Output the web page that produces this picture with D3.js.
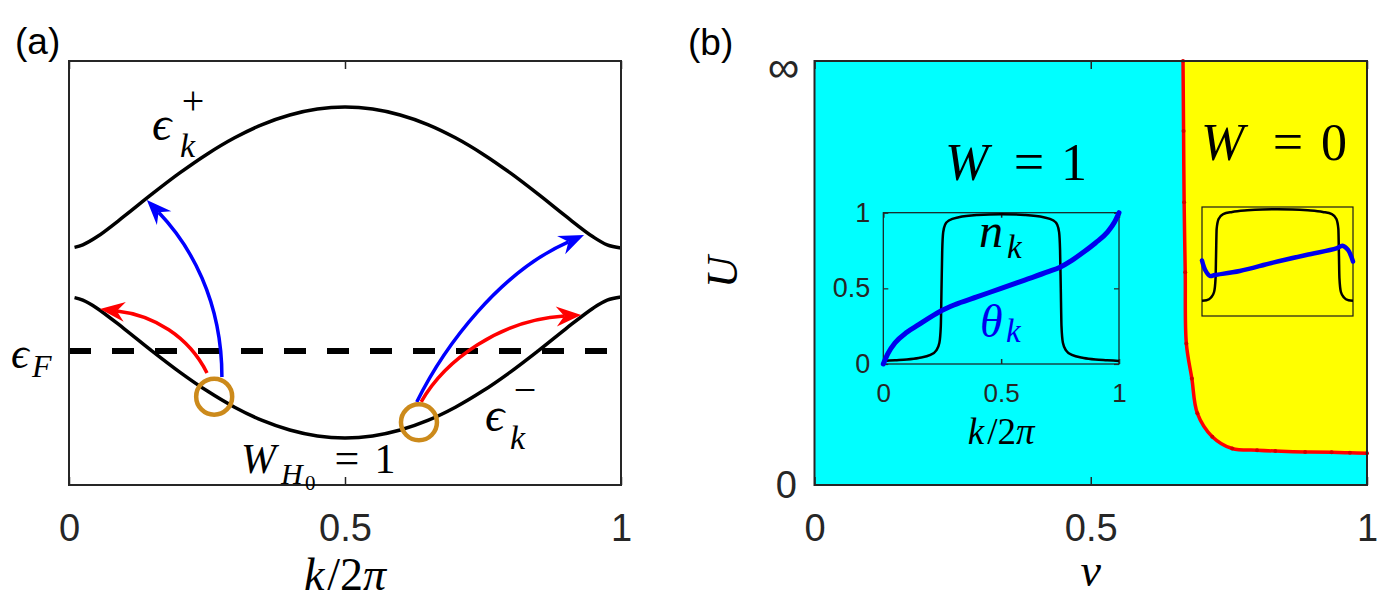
<!DOCTYPE html>
<html lang="en">
<head>
<meta charset="UTF-8" />
<title>Band structure and phase diagram</title>
<script src="https://d3js.org/d3.v7.min.js"></script>
<style>
    body { margin: 0; background: #fff; }
    svg { display: block; }
    .tick text { font-family: "Liberation Sans", Arial, sans-serif; fill: #262626; }
    .math { font-family: "Liberation Serif", "DejaVu Serif", serif; }
</style>
</head>
<body>
<svg id="fig" width="1381" height="608"></svg>
<script>
// ---- panel (a): bands eps_k^+ and eps_k^- (arb. units) ----
const kBand    = [0.01, 0.025, 0.05, 0.10, 0.15, 0.20, 0.25, 0.30, 0.35, 0.40, 0.45, 0.50,
                  0.55, 0.60, 0.65, 0.70, 0.75, 0.80, 0.85, 0.90, 0.95, 0.975, 1.00];
const epsPlus  = [0.152, 0.167, 0.214, 0.340, 0.473, 0.600, 0.715, 0.814, 0.894, 0.952, 0.988, 1.000,
                  0.988, 0.952, 0.894, 0.814, 0.715, 0.600, 0.473, 0.340, 0.214, 0.167, 0.148];
const epsMinus = [-0.152, -0.167, -0.214, -0.340, -0.473, -0.600, -0.715, -0.814, -0.894, -0.952, -0.988, -1.000,
                  -0.988, -0.952, -0.894, -0.814, -0.715, -0.600, -0.473, -0.340, -0.214, -0.167, -0.148];
const epsF = -0.474;
const xTicks = [0, 0.5, 1];

// highlighted states on the lower band: [k, eps]
const circles = [[0.263, -0.750], [0.634, -0.905]];
// transition arrows, cubic control points in (k, eps)
const arrows = [
    { color: "#0000ff", pts: [[0.277, -0.631], [0.277, -0.166], [0.219, 0.166], [0.141, 0.438]] },
    { color: "#ff0000", pts: [[0.250, -0.607], [0.217, -0.386], [0.153, -0.257], [0.056, -0.221]] },
    { color: "#0000ff", pts: [[0.630, -0.782], [0.681, -0.438], [0.781, 0.003], [0.933, 0.227]] },
    { color: "#ff0000", pts: [[0.638, -0.782], [0.681, -0.529], [0.781, -0.287], [0.928, -0.257]] }
];

// ---- panel (b): phase boundary nu vs U (U axis compactified to [0,1]) ----
const nuB = [0.667, 0.668, 0.669, 0.671, 0.673, 0.683, 0.693, 0.720, 0.756, 0.801, 0.834, 0.888, 0.936, 0.969, 1.000];
const uB  = [1.000, 0.835, 0.667, 0.502, 0.334, 0.251, 0.169, 0.114, 0.086, 0.082, 0.080, 0.078, 0.077, 0.076, 0.075];

// inset W=1: n_k and theta_k
const kN1 = [0, 0.05, 0.10, 0.15, 0.20, 0.225, 0.238, 0.244, 0.247, 0.250, 0.254, 0.262, 0.28, 0.32, 0.40, 0.50,
             0.60, 0.68, 0.72, 0.738, 0.746, 0.750, 0.753, 0.756, 0.762, 0.775, 0.80, 0.85, 0.90, 0.95, 1.00];
const nK1 = [0.02, 0.025, 0.03, 0.04, 0.06, 0.09, 0.14, 0.25, 0.50, 0.75, 0.87, 0.92, 0.95, 0.97, 0.985, 0.99,
             0.985, 0.97, 0.95, 0.92, 0.87, 0.75, 0.50, 0.25, 0.14, 0.09, 0.06, 0.04, 0.03, 0.025, 0.02];
const kT1 = [0, 0.02, 0.05, 0.10, 0.15, 0.20, 0.25, 0.30, 0.40, 0.50, 0.60, 0.70, 0.75, 0.80, 0.85, 0.90, 0.95, 0.98, 1.00];
const tK1 = [0, 0.07, 0.14, 0.21, 0.26, 0.31, 0.355, 0.39, 0.445, 0.50, 0.555, 0.61, 0.64, 0.685, 0.74, 0.80, 0.87, 0.935, 1.00];
const insetTicks = [0, 0.5, 1];

// inset W=0
const kN2 = [0, 0.03, 0.06, 0.08, 0.09, 0.093, 0.097, 0.11, 0.14, 0.20, 0.30, 0.40, 0.50,
             0.60, 0.70, 0.80, 0.86, 0.89, 0.903, 0.907, 0.91, 0.92, 0.94, 0.97, 1.00];
const nK2 = [0.14, 0.145, 0.17, 0.22, 0.35, 0.55, 0.80, 0.89, 0.935, 0.955, 0.97, 0.978, 0.98,
             0.978, 0.97, 0.955, 0.935, 0.89, 0.80, 0.55, 0.35, 0.22, 0.17, 0.145, 0.14];
const kT2 = [0, 0.022, 0.053, 0.086, 0.25, 0.47, 0.69, 0.89, 0.93, 0.967, 1.00];
const tK2 = [0.509, 0.42, 0.367, 0.376, 0.413, 0.49, 0.56, 0.62, 0.645, 0.606, 0.50];

const svg = d3.select("#fig");
const SANS = '"Liberation Sans", Arial, sans-serif';

// small helper for math-like labels: parts = [{t, x, y, size, italic, anchor, fill}]
function mathLabel(g, parts) {
    parts.forEach(p => {
        g.append("text")
            .attr("class", "math")
            .attr("x", p.x).attr("y", p.y)
            .attr("font-size", p.size)
            .attr("font-style", p.italic === false ? "normal" : "italic")
            .attr("text-anchor", p.anchor || "start")
            .attr("fill", p.fill || "#000")
            .text(p.t);
    });
}

// k/2pi with italic k and pi
function kOver2pi(g, x, y, size) {
    g.append("text").attr("class", "math").attr("x", x).attr("y", y)
        .attr("font-size", size).attr("font-style", "italic").attr("text-anchor", "middle")
        .call(t => {
            t.append("tspan").text("k");
            t.append("tspan").attr("font-style", "normal").attr("dx", 3).text("/2");
            t.append("tspan").text("\u03c0");
        });
}

function frame(g, x, y, stroke, width) {
    g.append("rect")
        .attr("x", x.range()[0]).attr("y", y.range()[1])
        .attr("width", x.range()[1] - x.range()[0])
        .attr("height", y.range()[0] - y.range()[1])
        .attr("fill", "none").attr("stroke", stroke).attr("stroke-width", width);
}

function xAxes(g, x, y, ticks, size, pad, fontSize, labels) {
    const bottom = g.append("g")
        .attr("transform", `translate(0,${y.range()[0]})`)
        .call(d3.axisBottom(x).tickValues(ticks).tickSize(-size).tickPadding(pad)
            .tickFormat(labels ? d3.format("") : () => ""));
    const top = g.append("g")
        .attr("transform", `translate(0,${y.range()[1]})`)
        .call(d3.axisTop(x).tickValues(ticks).tickSize(-size).tickFormat(() => ""));
    [bottom, top].forEach(a => {
        a.select(".domain").remove();
        a.selectAll(".tick line").attr("stroke", "#262626").attr("stroke-width", 1.5);
    });
    bottom.selectAll(".tick text").attr("font-size", fontSize).attr("font-family", SANS);
    return bottom;
}

// ================= panel (a) =================
const xa = d3.scaleLinear().domain([0, 1]).range([69, 621]);
const ya = d3.scaleLinear().domain([-1.284, 1.278]).range([485, 61]);
const ga = svg.append("g");

const bandLine = vals => d3.line()
    .x((d, i) => xa(kBand[i])).y(d => ya(d))
    .curve(d3.curveCatmullRom.alpha(0.5))(vals);

ga.append("path").attr("d", bandLine(epsPlus))
    .attr("fill", "none").attr("stroke", "#000").attr("stroke-width", 3.5);
ga.append("path").attr("d", bandLine(epsMinus))
    .attr("fill", "none").attr("stroke", "#000").attr("stroke-width", 3.5);

ga.append("line")
    .attr("x1", xa(0)).attr("x2", xa(1))
    .attr("y1", ya(epsF)).attr("y2", ya(epsF))
    .attr("stroke", "#000").attr("stroke-width", 6).attr("stroke-dasharray", "22,21");

// arrows
arrows.forEach(a => {
    const p = a.pts.map(d => [xa(d[0]), ya(d[1])]);
    const tip = p[3];
    let ux = p[3][0] - p[2][0], uy = p[3][1] - p[2][1];
    const len = Math.hypot(ux, uy); ux /= len; uy /= len;
    const nx = -uy, ny = ux;
    const L = 25, W = 10, notch = 8;
    const end = [tip[0] - (L - notch) * ux, tip[1] - (L - notch) * uy];
    const path = d3.path();
    path.moveTo(p[0][0], p[0][1]);
    path.bezierCurveTo(p[1][0], p[1][1], p[2][0], p[2][1], end[0], end[1]);
    ga.append("path").attr("d", path.toString())
        .attr("fill", "none").attr("stroke", a.color).attr("stroke-width", 3.5);
    const head = [
        tip,
        [tip[0] - L * ux + W * nx, tip[1] - L * uy + W * ny],
        end,
        [tip[0] - L * ux - W * nx, tip[1] - L * uy - W * ny]
    ];
    ga.append("path").attr("d", "M" + head.join("L") + "Z").attr("fill", a.color);
});

ga.selectAll("circle.state").data(circles).join("circle")
    .attr("class", "state")
    .attr("cx", d => xa(d[0])).attr("cy", d => ya(d[1])).attr("r", 18)
    .attr("fill", "none").attr("stroke", "#cc8a1b").attr("stroke-width", 4.5);

frame(ga, xa, ya, "#262626", 2);
xAxes(ga, xa, ya, xTicks, 8, 29, 38, true);

mathLabel(ga, [
    { t: "\u03f5", x: 152, y: 140, size: 48 },
    { t: "k", x: 180, y: 157, size: 34 },
    { t: "+", x: 193, y: 114, size: 40, italic: false, anchor: "middle" },
    { t: "\u03f5", x: 485, y: 431, size: 48 },
    { t: "k", x: 510, y: 449, size: 34 },
    { t: "\u2212", x: 525, y: 403, size: 40, italic: false, anchor: "middle" },
    { t: "\u03f5", x: 11, y: 368, size: 44 },
    { t: "F", x: 32, y: 377, size: 32 },
    { t: "W", x: 241, y: 473, size: 42 },
    { t: "H", x: 281, y: 484, size: 30 },
    { t: "0", x: 305, y: 490, size: 21, italic: false },
    { t: "=", x: 347, y: 473, size: 44, italic: false, anchor: "middle" },
    { t: "1", x: 385, y: 473, size: 42, italic: false, anchor: "middle" }
]);

kOver2pi(ga, xa(0.5), 590, 46);

svg.append("text").attr("x", 15).attr("y", 54).attr("font-size", 37)
    .attr("font-family", SANS).text("(a)");

// ================= panel (b) =================
const xb = d3.scaleLinear().domain([0, 1]).range([814.5, 1367]);
const yb = d3.scaleLinear().domain([0, 1]).range([485, 61]);
const gb = svg.append("g");

gb.append("rect")
    .attr("x", xb(0)).attr("y", yb(1))
    .attr("width", xb(1) - xb(0)).attr("height", yb(0) - yb(1))
    .attr("fill", "#00ffff");

const boundary = nuB.map((d, i) => [d, uB[i]]);
const bLine = d3.line().x(d => xb(d[0])).y(d => yb(d[1])).curve(d3.curveCatmullRom.alpha(0.5));
// W=0 region: right of the boundary, closed along the right and top edges
gb.append("path")
    .attr("d", bLine(boundary) + `L${xb(1)},${yb(1)}Z`)
    .attr("fill", "#ffff00");
gb.append("path").attr("d", bLine(boundary))
    .attr("fill", "none").attr("stroke", "#ff0000").attr("stroke-width", 3.5);
gb.selectAll("circle.mk").data(boundary).join("circle")
    .attr("class", "mk")
    .attr("cx", d => xb(d[0])).attr("cy", d => yb(d[1])).attr("r", 2)
    .attr("fill", "#d40000");

frame(gb, xb, yb, "#262626", 2);
xAxes(gb, xb, yb, xTicks, 8, 29, 38, true);

// y tick labels 0 and infinity
gb.append("text").attr("x", 797).attr("y", 498).attr("font-size", 38)
    .attr("font-family", SANS).attr("fill", "#262626").attr("text-anchor", "end").text("0");
gb.append("text").attr("x", 799).attr("y", 82).attr("font-size", 44)
    .attr("font-family", '"DejaVu Sans", sans-serif').attr("font-weight", 300)
    .attr("fill", "#262626").attr("text-anchor", "end").text("\u221e");

gb.append("text").attr("class", "math").attr("font-size", 44).attr("font-style", "italic")
    .attr("text-anchor", "middle")
    .attr("transform", "translate(737,272) rotate(-90)").text("U");
gb.append("text").attr("class", "math").attr("font-size", 46).attr("font-style", "italic")
    .attr("text-anchor", "middle").attr("x", xb(0.5)).attr("y", 586).text("\u03bd");

mathLabel(gb, [
    { t: "W", x: 945, y: 180, size: 52 },
    { t: "=", x: 1029, y: 180, size: 54, italic: false, anchor: "middle" },
    { t: "1", x: 1074, y: 180, size: 52, italic: false, anchor: "middle" },
    { t: "W", x: 1201, y: 160, size: 52 },
    { t: "=", x: 1288, y: 160, size: 54, italic: false, anchor: "middle" },
    { t: "0", x: 1334, y: 160, size: 52, italic: false, anchor: "middle" }
]);

// ---- inset W=1 ----
const xi1 = d3.scaleLinear().domain([0, 1]).range([883.3, 1119]);
const yi1 = d3.scaleLinear().domain([0, 1]).range([364, 212.7]);
const gi1 = gb.append("g");
frame(gi1, xi1, yi1, "#1a1a1a", 1.2);
xAxes(gi1, xi1, yi1, insetTicks, 5, 20, 26, true);
const ly1 = gi1.append("g").attr("transform", `translate(${xi1(0)},0)`)
    .call(d3.axisLeft(yi1).tickValues(insetTicks).tickSize(-5).tickPadding(13).tickFormat(d3.format("")));
const ry1 = gi1.append("g").attr("transform", `translate(${xi1(1)},0)`)
    .call(d3.axisRight(yi1).tickValues(insetTicks).tickSize(-5).tickFormat(() => ""));
[ly1, ry1].forEach(a => {
    a.select(".domain").remove();
    a.selectAll(".tick line").attr("stroke", "#262626").attr("stroke-width", 1.2);
});
ly1.selectAll(".tick text").attr("font-size", 27).attr("font-family", SANS);

gi1.append("path")
    .attr("d", d3.line().x((d, i) => xi1(kN1[i])).y(d => yi1(d)).curve(d3.curveMonotoneX)(nK1))
    .attr("fill", "none").attr("stroke", "#000").attr("stroke-width", 2.5);
gi1.append("path")
    .attr("d", d3.line().x((d, i) => xi1(kT1[i])).y(d => yi1(d)).curve(d3.curveMonotoneX)(tK1))
    .attr("fill", "none").attr("stroke", "#0000ee").attr("stroke-width", 5).attr("stroke-linecap", "round");

mathLabel(gi1, [
    { t: "n", x: 979, y: 247, size: 48 },
    { t: "k", x: 1007, y: 258, size: 33 },
    { t: "\u03b8", x: 980, y: 337, size: 46, fill: "#0000ee" },
    { t: "k", x: 1006, y: 342, size: 33, fill: "#0000ee" }
]);
kOver2pi(gi1, xi1(0.5), 444, 37);

// ---- inset W=0 ----
const xi2 = d3.scaleLinear().domain([0, 1]).range([1202, 1353]);
const yi2 = d3.scaleLinear().domain([0, 1]).range([316, 207]);
const gi2 = gb.append("g");
frame(gi2, xi2, yi2, "#1a1a1a", 1.2);
gi2.append("path")
    .attr("d", d3.line().x((d, i) => xi2(kN2[i])).y(d => yi2(d)).curve(d3.curveMonotoneX)(nK2))
    .attr("fill", "none").attr("stroke", "#000").attr("stroke-width", 2.5);
gi2.append("path")
    .attr("d", d3.line().x((d, i) => xi2(kT2[i])).y(d => yi2(d)).curve(d3.curveCatmullRom.alpha(0.5))(tK2))
    .attr("fill", "none").attr("stroke", "#0000ee").attr("stroke-width", 4.5).attr("stroke-linecap", "round");

svg.append("text").attr("x", 688).attr("y", 55).attr("font-size", 37)
    .attr("font-family", SANS).text("(b)");
</script>
</body>
</html>
